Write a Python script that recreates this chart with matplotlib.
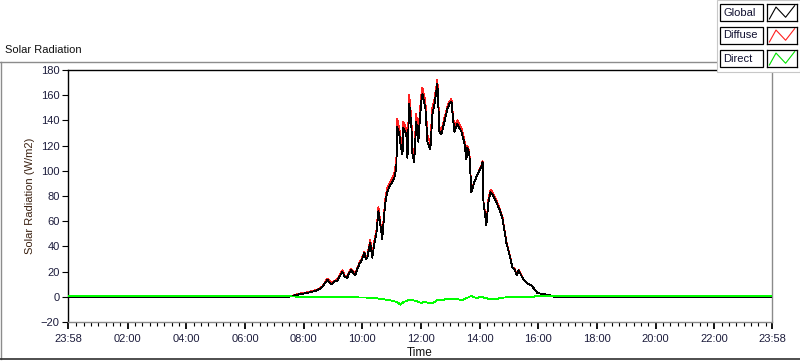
import numpy as np
import matplotlib.pyplot as plt
from matplotlib.lines import Line2D
from matplotlib.patches import Rectangle
from matplotlib.ticker import FixedLocator

plt.rcParams['font.family'] = ['Liberation Sans', 'DejaVu Sans']

# hours of the day (23:58 of the previous day = -1/30)
global_time = [-0.033, 7.50, 7.85, 8.10, 8.29, 8.45, 8.63, 8.81, 8.94, 9.05, 9.15, 9.25, 9.32, 9.40,
               9.49, 9.55, 9.62, 9.69, 9.76, 9.83, 9.90, 9.98, 10.07, 10.12, 10.17, 10.22, 10.27,
               10.34, 10.41, 10.48, 10.55, 10.62, 10.68, 10.78, 10.85, 10.92, 10.99, 11.09, 11.16,
               11.19, 11.26, 11.32, 11.37, 11.40, 11.50, 11.54, 11.60, 11.67, 11.71, 11.77, 11.84,
               11.91, 11.96, 12.01, 12.05, 12.15, 12.22, 12.32, 12.39, 12.46, 12.56, 12.63, 12.70,
               12.80, 12.90, 12.97, 13.04, 13.07, 13.14, 13.24, 13.38, 13.48, 13.55, 13.58, 13.65,
               13.72, 13.82, 13.92, 14.06, 14.10, 14.13, 14.23, 14.30, 14.37, 14.44, 14.57, 14.68,
               14.78, 14.91, 15.02, 15.12, 15.19, 15.26, 15.33, 15.46, 15.60, 15.77, 15.87, 15.97,
               16.21, 16.45, 16.55, 23.967]
global_rad = [0, 0, 2, 3, 4, 5, 7.5, 13.5, 10, 12, 13, 17, 20, 16,
              15, 19, 21, 19, 17, 22, 26, 29, 35, 30, 31, 37, 43,
              31, 42, 50, 68, 56, 46, 74, 83, 87, 90, 94, 102,
              135, 129, 118, 113, 134, 129, 110, 153, 137, 113, 107, 139,
              123, 140, 155, 161, 150, 123, 117, 145, 153, 169, 131, 129,
              139, 149, 153, 155, 147, 131, 137, 131, 122, 109, 118, 113,
              83, 91, 97, 103, 107, 75, 57, 75, 83, 81, 75, 69,
              62, 43, 33, 23, 22, 17, 21, 15, 11, 9, 6, 3,
              2, 1, 0, 0]
diffuse_rad = [0, 0, 2.5, 3.5, 4.5, 5.5, 8, 14.5, 11, 12.5, 14, 18, 21, 17,
               16, 20, 22, 20, 18, 23, 27, 30, 36, 31.5, 32.5, 38.5, 45,
               33, 44, 52, 71, 58, 48, 77, 86, 90, 93, 98, 107,
               141, 134, 124, 118, 139, 133, 114, 160, 142, 118, 112, 145,
               128, 146, 160, 166, 155, 128, 122, 150, 157, 172, 134, 132,
               142, 151, 155, 157, 149, 134, 140, 134, 125, 111, 120, 115,
               84, 91, 97, 104, 108, 76, 59, 77, 85, 83, 77, 70,
               63, 44, 33.5, 23.5, 22.5, 17.5, 21.5, 15, 11, 9, 6, 3,
               2, 1, 0, 0]

direct_time = [-0.033, 7.40, 7.60, 8.80, 9.70, 10.30, 10.50, 10.80, 11.00, 11.20, 11.30, 11.40,
               11.55, 11.70, 11.85, 12.00, 12.15, 12.30, 12.45, 12.55, 12.75, 12.90, 13.20,
               13.40, 13.58, 13.72, 13.80, 13.90, 14.05, 14.20, 14.35, 14.55, 14.75, 14.95,
               15.30, 15.85, 15.90, 23.967]
direct_rad = [0.9, 0.9, 0.2, -0.1, -0.4, -0.7, -1.2, -2.3, -3.0, -4.3, -6.3, -4.3,
              -2.8, -2.5, -3.5, -4.8, -4.0, -5.4, -4.3, -2.5, -2.5, -1.5, -1.7,
              -2.5, -0.8, 0.8, -0.3, -1.0, 0.0, -1.0, -1.8, -1.8, -0.8, -0.3,
              -0.2, -0.3, 0.9, 0.9]

major_ticks = [-0.033, 2, 4, 6, 8, 10, 12, 14, 16, 18, 20, 22, 23.967]
major_labels = ['23:58', '02:00', '04:00', '06:00', '08:00', '10:00', '12:00',
                '14:00', '16:00', '18:00', '20:00', '22:00', '23:58']
y_ticks = [-20, 0, 20, 40, 60, 80, 100, 120, 140, 160, 180]

W, H = 800, 361


def fx(x):
    return x / W


def fy(y):
    return 1 - y / H


fig = plt.figure(figsize=(8, 3.61), dpi=100)
ax = fig.add_axes([fx(68), fy(322), fx(772) - fx(68), fy(70) - fy(322)])

# LabVIEW draws 1px lines without smoothing
ax.plot(global_time, diffuse_rad, color='#ff2020', lw=0.6, antialiased=False, zorder=2)
ax.plot(global_time, global_rad, color='black', lw=0.6, antialiased=False, zorder=3)
ax.plot(direct_time, direct_rad, color='#00ff00', lw=0.6, antialiased=False, zorder=4)

ax.set_xlim(-0.033, 23.967)
ax.set_ylim(-20, 180)
ax.xaxis.set_major_locator(FixedLocator(major_ticks))
ax.set_xticklabels(major_labels)
ax.xaxis.set_minor_locator(FixedLocator(np.arange(0.25, 24, 0.25)))
ax.set_yticks(y_ticks)

tick_col = '#1c1c3c'
ax.tick_params(axis='x', which='major', length=5, width=1.3, color='black',
               labelsize=8, labelcolor=tick_col, pad=4)
ax.tick_params(axis='x', which='minor', length=3, width=0.8, color='black')
ax.tick_params(axis='y', length=4, width=0.8, color='black', labelsize=8,
               labelcolor=tick_col, pad=2)

for side in ['top', 'left']:
    ax.spines[side].set_color('black')
    ax.spines[side].set_linewidth(1.0)
for side in ['right', 'bottom']:
    ax.spines[side].set_color('#8a8a8a')
    ax.spines[side].set_linewidth(1.0)

ax.set_ylabel('Solar Radiation (W/m2)', fontsize=8, color='#3a2010', labelpad=4)
ax.set_xlabel('Time', fontsize=8.5, color='#101010', labelpad=2)

# panel frame
fig.add_artist(Line2D([fx(0), fx(717)], [fy(61.5), fy(61.5)], color='#8c8c8c', lw=1))
fig.add_artist(Line2D([fx(0.8), fx(0.8)], [fy(61.5), fy(359)], color='#8c8c8c', lw=1))
fig.add_artist(Line2D([fx(0), fx(800)], [fy(359), fy(359)], color='#303030', lw=1.2))
fig.text(fx(5), fy(50), 'Solar Radiation', fontsize=8, color='#101010', va='center', ha='left')

# legend panel
fig.add_artist(Rectangle((fx(717), fy(72)), fx(83), fy(0) - fy(72), facecolor='white',
                         edgecolor='#c8c8c8', lw=0.8, zorder=5))
names = ['Global', 'Diffuse', 'Direct']
colors = ['black', '#ff2020', '#00e000']
tops = [4, 27, 50]
for name, col, top in zip(names, colors, tops):
    fig.add_artist(Rectangle((fx(720), fy(top + 17)), fx(43), fy(top) - fy(top + 17),
                             facecolor='white', edgecolor='black', lw=0.9, zorder=6))
    fig.text(fx(723), fy(top + 8.5), name, fontsize=8, color='#101030', va='center',
             ha='left', zorder=7)
    sw = fig.add_axes([fx(767), fy(top + 17), fx(30), fy(top) - fy(top + 17)], zorder=8)
    sw.plot([0.08, 0.3, 0.62, 0.92], [0.12, 0.82, 0.22, 0.9], color=col, lw=0.8)
    sw.set_xlim(0, 1)
    sw.set_ylim(0, 1)
    sw.set_xticks([])
    sw.set_yticks([])
    for s in sw.spines.values():
        s.set_color('black')
        s.set_linewidth(0.9)

fig.savefig('out.png', dpi=100)
